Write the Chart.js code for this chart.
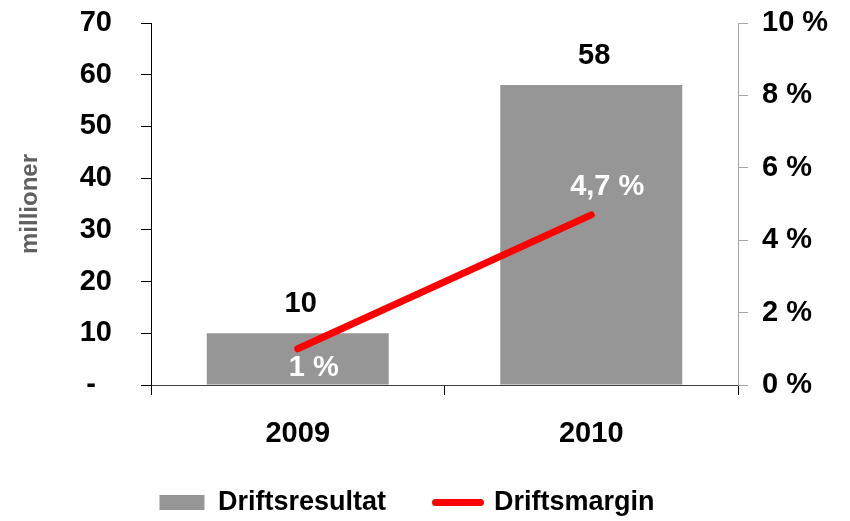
<!DOCTYPE html>
<html>
<head>
<meta charset="utf-8">
<script src="https://cdn.jsdelivr.net/npm/chart.js@4"></script>
<style>
  html, body { margin: 0; padding: 0; background: #fff; }
  #wrap { width: 850px; height: 521px; }
</style>
</head>
<body>
<div id="wrap"><canvas id="chart"></canvas></div>
<script>
var years = ["2009", "2010"];
var driftsresultat = [10, 58];
var driftsmargin = [1, 4.7];
var resultatLabels = ["10", "58"];
var marginLabels = ["1 %", "4,7 %"];
var leftTicks = [0, 10, 20, 30, 40, 50, 60, 70];
var rightTicks = [0, 2, 4, 6, 8, 10];

var GREY = "#969696";
var RED = "#ff0000";
Chart.defaults.font.family = "'Liberation Sans', Arial, sans-serif";
Chart.defaults.font.weight = "bold";
Chart.defaults.color = "#000";

// value labels, placed from the library's own element positions
var valueLabels = {
    id: "valueLabels",
    afterDatasetsDraw: function (chart) {
        var c = chart.ctx;
        c.save();
        c.font = "bold 29px 'Liberation Sans', Arial, sans-serif";
        c.textAlign = "center";
        c.textBaseline = "middle";
        chart.getDatasetMeta(0).data.forEach(function (el, i) {
            c.fillStyle = "#000";
            c.fillText(resultatLabels[i], el.x + 3, el.y - 29);
        });
        chart.getDatasetMeta(1).data.forEach(function (el, i) {
            c.fillStyle = "#fff";
            var dy = i === 0 ? 19 : -28;
            c.fillText(marginLabels[i], el.x + 16, el.y + dy);
        });
        c.restore();
    }
};

// nudge the legend a little, like the original
var legendShift = {
    id: "legendShift",
    afterLayout: function (chart) {
        chart.legend.left -= 18;
        chart.legend.right -= 18;
        chart.legend.top += 5;
        chart.legend.bottom += 5;
    }
};

// keep the plot area where the original has it
function yFit(width) {
    return function (s) {
        s.width = width;
        s.paddingTop = 0;
        s.paddingBottom = 0;
    };
}

var ctx = document.getElementById("chart");
var chart = new Chart(ctx, {
    type: "bar",
    data: {
        labels: years,
        datasets: [
            {
                label: "Driftsresultat",
                data: driftsresultat,
                backgroundColor: GREY,
                yAxisID: "y",
                order: 2,
                categoryPercentage: 0.62,
                barPercentage: 1
            },
            {
                type: "line",
                label: "Driftsmargin",
                data: driftsmargin,
                borderColor: RED,
                backgroundColor: RED,
                borderWidth: 7,
                borderCapStyle: "round",
                pointRadius: 0,
                yAxisID: "y1",
                order: 1
            }
        ]
    },
    options: {
        responsive: true,
        maintainAspectRatio: false,
        animation: false,
        layout: { padding: { top: 23, left: 0, right: 0, bottom: 0 } },
        plugins: {
            tooltip: { enabled: false },
            legend: {
                position: "bottom",
                labels: {
                    usePointStyle: true,
                    pointStyleWidth: 45,
                    boxHeight: 15,
                    padding: 27,
                    color: "#000",
                    font: { size: 27, weight: "bold" },
                    generateLabels: function () {
                        return [
                            { text: "Driftsresultat   ", fillStyle: GREY, strokeStyle: GREY, lineWidth: 0, pointStyle: "rect", datasetIndex: 0 },
                            { text: "Driftsmargin", fillStyle: RED, strokeStyle: RED, lineWidth: 7, lineCap: "round", pointStyle: "line", datasetIndex: 1 }
                        ];
                    }
                }
            }
        },
        scales: {
            x: {
                afterFit: function (s) { s.height = 72; },
                grid: { drawOnChartArea: false, drawTicks: true, tickLength: 10, tickColor: "#000", offset: true },
                border: { display: true, color: "#404040", width: 1 },
                ticks: { padding: 22, color: "#000", font: { size: 29, weight: "bold" } }
            },
            y: {
                position: "left",
                min: 0,
                max: 70,
                afterFit: yFit(151),
                afterBuildTicks: function (s) { s.ticks = leftTicks.map(function (v) { return { value: v }; }); },
                grid: { drawOnChartArea: false, drawTicks: true, tickLength: 10, tickColor: "#000" },
                border: { display: true, color: "#000", width: 1 },
                ticks: {
                    padding: 29,
                    color: "#000",
                    font: { size: 29, weight: "bold" },
                    callback: function (v) { return v === 0 ? "-  " : String(v); }
                },
                title: {
                    display: true,
                    text: "millioner",
                    color: "#5f5f5f",
                    font: { size: 24, weight: "bold" },
                    padding: { top: 16, bottom: 10 }
                }
            },
            y1: {
                position: "right",
                min: 0,
                max: 10,
                afterFit: yFit(112),
                afterBuildTicks: function (s) { s.ticks = rightTicks.map(function (v) { return { value: v }; }); },
                grid: { drawOnChartArea: false, drawTicks: true, tickLength: 10, tickColor: "#a6a6a6" },
                border: { display: true, color: "#a6a6a6", width: 1 },
                ticks: {
                    padding: 14,
                    color: "#000",
                    font: { size: 29, weight: "bold" },
                    callback: function (v) { return v + " %"; }
                }
            }
        }
    },
    plugins: [valueLabels, legendShift]
});
</script>
</body>
</html>
